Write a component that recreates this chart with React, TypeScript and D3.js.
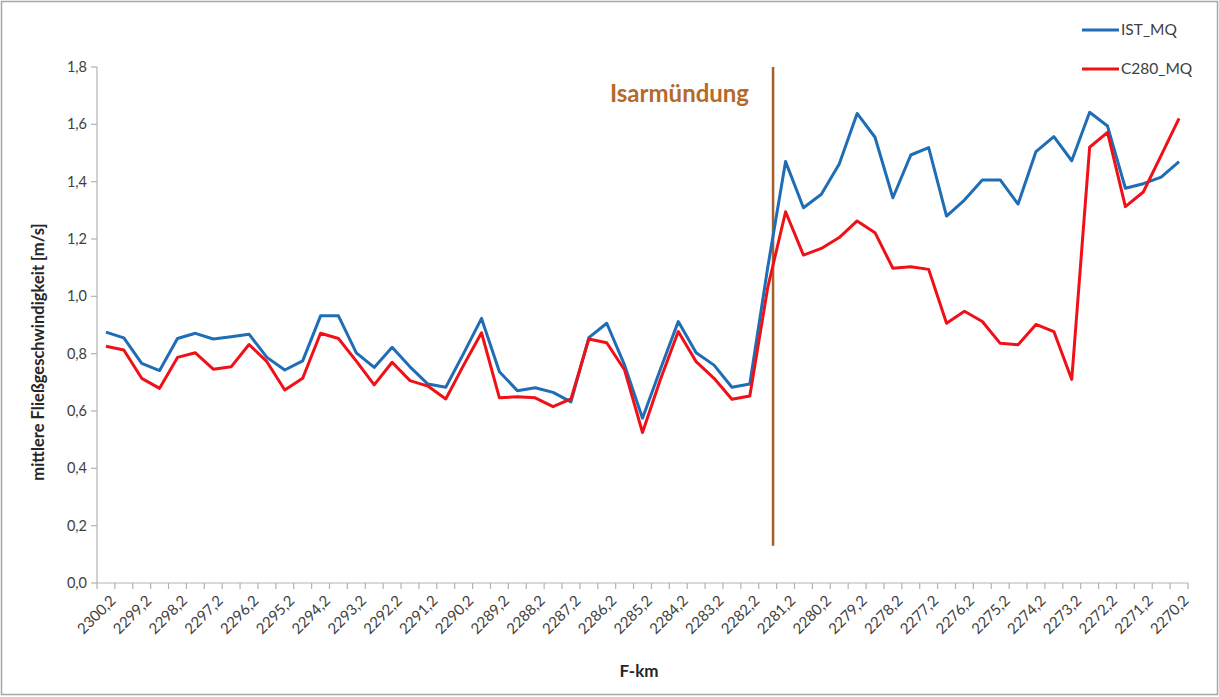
import React from "react";
import * as d3 from "d3";

const kmCategories: number[] = [
  2300.2, 2299.7, 2299.2, 2298.7, 2298.2, 2297.7, 2297.2, 2296.7, 2296.2, 2295.7,
  2295.2, 2294.7, 2294.2, 2293.7, 2293.2, 2292.7, 2292.2, 2291.7, 2291.2, 2290.7,
  2290.2, 2289.7, 2289.2, 2288.7, 2288.2, 2287.7, 2287.2, 2286.7, 2286.2, 2285.7,
  2285.2, 2284.7, 2284.2, 2283.7, 2283.2, 2282.7, 2282.2, 2281.7, 2281.2, 2280.7,
  2280.2, 2279.7, 2279.2, 2278.7, 2278.2, 2277.7, 2277.2, 2276.7, 2276.2, 2275.7,
  2275.2, 2274.7, 2274.2, 2273.7, 2273.2, 2272.7, 2272.2, 2271.7, 2271.2, 2270.7,
  2270.2,
];

const istMQ: number[] = [
  0.875, 0.855, 0.766, 0.741, 0.853, 0.871, 0.851, 0.859, 0.868, 0.787,
  0.743, 0.775, 0.932, 0.932, 0.803, 0.752, 0.822, 0.754, 0.694, 0.683,
  0.801, 0.923, 0.737, 0.671, 0.681, 0.665, 0.632, 0.856, 0.906, 0.760,
  0.575, 0.746, 0.912, 0.803, 0.760, 0.683, 0.694, 1.10, 1.470, 1.309,
  1.356, 1.462, 1.638, 1.555, 1.344, 1.493, 1.519, 1.280, 1.336, 1.406,
  1.406, 1.322, 1.505, 1.557, 1.473, 1.642, 1.594, 1.377, 1.393, 1.416,
  1.470,
];

const c280MQ: number[] = [
  0.826, 0.813, 0.714, 0.679, 0.787, 0.803, 0.746, 0.754, 0.832, 0.772,
  0.673, 0.714, 0.871, 0.853, 0.774, 0.691, 0.770, 0.706, 0.687, 0.642,
  0.760, 0.873, 0.646, 0.650, 0.646, 0.615, 0.642, 0.851, 0.838, 0.743,
  0.525, 0.71, 0.877, 0.772, 0.714, 0.641, 0.652, 1.03, 1.295, 1.144,
  1.167, 1.205, 1.263, 1.222, 1.098, 1.103, 1.094, 0.906, 0.948, 0.912,
  0.836, 0.831, 0.902, 0.877, 0.710, 1.520, 1.572, 1.313, 1.364, 1.492,
  1.621,
];

const yTicks: number[] = [0, 0.2, 0.4, 0.6, 0.8, 1.0, 1.2, 1.4, 1.6, 1.8];

const seriesNames: string[] = ["IST_MQ", "C280_MQ"];
const seriesColors: string[] = ["#1f6db5", "#f01018"];

const isarKm = 2281.55;
const isarBottom = 0.13;
const isarTop = 1.8;
const isarLabel = "Isarmündung";

const W = 1219;
const H = 697;
const plotLeft = 97;
const plotRight = 1188;
const plotTop = 67;
const plotBottom = 583;
const FONT = "Lato, 'Open Sans', sans-serif";

export default function App() {
  const idx = kmCategories.map((_, i) => i);
  const x = d3.scaleBand<number>().domain(idx).range([plotLeft, plotRight]).padding(0);
  const bw = x.bandwidth();
  const cx = (i: number) => (x(i) as number) + bw / 2;
  const y = d3.scaleLinear().domain([0, 1.8]).range([plotBottom, plotTop]);
  const kmScale = d3
    .scaleLinear()
    .domain([kmCategories[0], kmCategories[kmCategories.length - 1]])
    .range([cx(0), cx(kmCategories.length - 1)]);

  const line = d3
    .line<number>()
    .x((_, i) => cx(i))
    .y((d) => y(d));

  const fmt = (v: number) => d3.format(".1f")(v).replace(".", ",");
  const series = [istMQ, c280MQ];
  const isarX = kmScale(isarKm);

  return (
    <svg
      width={W}
      height={H}
      style={{ position: "absolute", left: 0, top: 0, background: "#fff" }}
      fontFamily={FONT}
    >
      <rect x={1.5} y={1.5} width={W - 3} height={H - 4} fill="#fff" stroke="#a6a6a6" strokeWidth={1.5} />

      {/* y axis */}
      <line x1={plotLeft} x2={plotLeft} y1={plotTop} y2={plotBottom} stroke="#b3b3b3" strokeWidth={1.2} />
      {yTicks.map((t) => (
        <g key={t}>
          <line x1={plotLeft - 6} x2={plotLeft} y1={y(t)} y2={y(t)} stroke="#b3b3b3" strokeWidth={1.2} />
          <text x={plotLeft - 10} y={y(t)} dy="0.35em" textAnchor="end" fontSize={14.5} fill="#404040">
            {fmt(t)}
          </text>
        </g>
      ))}

      {/* x axis */}
      <line x1={plotLeft} x2={plotRight} y1={plotBottom} y2={plotBottom} stroke="#b3b3b3" strokeWidth={1.2} />
      {d3.range(kmCategories.length + 1).map((i) => {
        const xx = plotLeft + i * bw;
        return <line key={i} x1={xx} x2={xx} y1={plotBottom} y2={plotBottom + 6} stroke="#b3b3b3" strokeWidth={1.2} />;
      })}
      {kmCategories.map((k, i) =>
        i % 2 === 0 ? (
          <text
            key={i}
            transform={`translate(${cx(i) + 7},${plotBottom + 15}) rotate(-45)`}
            textAnchor="end"
            dy="0.35em"
            fontSize={15}
            fill="#404040"
          >
            {k.toFixed(1).replace(".", ",")}
          </text>
        ) : null
      )}

      {/* axis titles */}
      <text
        transform={`translate(38,352) rotate(-90)`}
        textAnchor="middle"
        dy="0.35em"
        fontSize={16.5}
        fontWeight="bold"
        fill="#262626"
      >
        mittlere Fließgeschwindigkeit [m/s]
      </text>
      <text x={639} y={671} textAnchor="middle" dy="0.35em" fontSize={17} fontWeight="bold" fill="#262626">
        F-km
      </text>

      {/* Isarmündung marker */}
      <line x1={isarX} x2={isarX} y1={y(isarTop)} y2={y(isarBottom)} stroke="#a5612a" strokeWidth={2.5} />
      <text x={isarX - 24} y={94} dy="0.35em" textAnchor="end" fontSize={24} fontWeight="bold" fill="#b56a2a">
        {isarLabel}
      </text>

      {/* series */}
      {series.map((s, si) => (
        <path key={si} d={line(s) || ""} fill="none" stroke={seriesColors[si]} strokeWidth={3} strokeLinejoin="round" />
      ))}

      {/* legend */}
      {seriesNames.map((n, si) => {
        const ly = 30 + si * 39;
        return (
          <g key={n}>
            <line x1={1082} x2={1119} y1={ly} y2={ly} stroke={seriesColors[si]} strokeWidth={3} />
            <text x={1121} y={ly} dy="0.35em" fontSize={15.5} fill="#404040">
              {n}
            </text>
          </g>
        );
      })}
    </svg>
  );
}
